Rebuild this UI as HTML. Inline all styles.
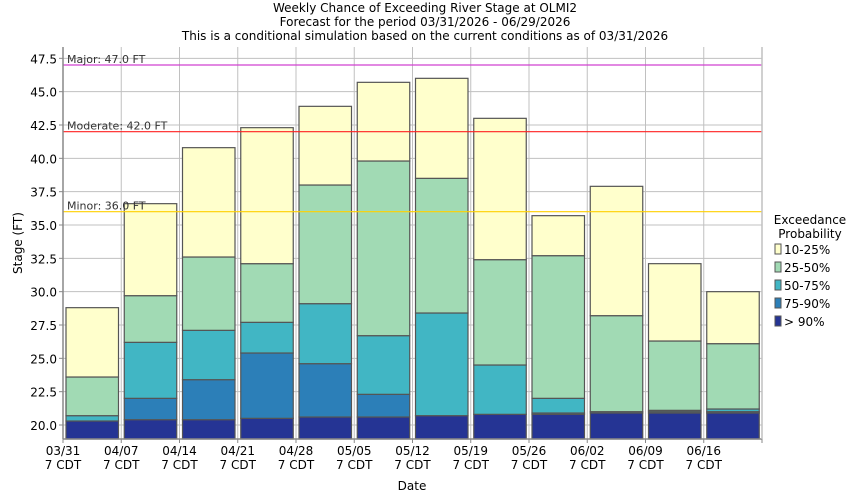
<!DOCTYPE html>
<html><head><meta charset="utf-8"><style>
body{margin:0;background:#fff;font-family:"DejaVu Sans","Liberation Sans",sans-serif;}
svg text{font-family:"DejaVu Sans","Liberation Sans",sans-serif;}
</style></head><body>
<svg id="s" width="850" height="500" xmlns="http://www.w3.org/2000/svg"></svg>
<script>
const s=document.getElementById('s');
let h='';
const L=63,R=762,T=47,B=439;
const y=v=>425-(v-20)*13.3333;
const xw=58.25;
h+=`<rect width="850" height="500" fill="#fff"/>`;
h+=`<text x="425" y="12" font-size="12" text-anchor="middle">Weekly Chance of Exceeding River Stage at OLMI2</text>`;
h+=`<text x="425" y="26" font-size="12" text-anchor="middle">Forecast for the period 03/31/2026 - 06/29/2026</text>`;
h+=`<text x="425" y="40" font-size="12" text-anchor="middle">This is a conditional simulation based on the current conditions as of 03/31/2026</text>`;
// grid
for(let v=20;v<=47.5;v+=2.5){const yy=y(v);h+=`<line x1="${L}" x2="${R}" y1="${yy}" y2="${yy}" stroke="#c0c0c0"/>`;
h+=`<line x1="${L-4}" x2="${L}" y1="${yy}" y2="${yy}" stroke="#888"/>`;
h+=`<text x="${L-6}" y="${yy+5}" font-size="12" text-anchor="end">${v.toFixed(1)}</text>`;}
const dates=['03/31','04/07','04/14','04/21','04/28','05/05','05/12','05/19','05/26','06/02','06/09','06/16'];
for(let i=0;i<=12;i++){const x=L+i*xw;h+=`<line x1="${x}" x2="${x}" y1="${T}" y2="${B}" stroke="#c0c0c0"/>`;
h+=`<line x1="${x}" x2="${x}" y1="${B}" y2="${B+4}" stroke="#888"/>`;
if(i<12){h+=`<text x="${x}" y="${B+16}" font-size="12" text-anchor="middle">${dates[i]}</text><text x="${x}" y="${B+30}" font-size="12" text-anchor="middle">7 CDT</text>`;}}
const d=[[20.3,20.3,20.7,23.6,28.8],[20.4,22.0,26.2,29.7,36.6],[20.4,23.4,27.1,32.6,40.8],[20.5,25.4,27.7,32.1,42.3],[20.6,24.6,29.1,38.0,43.9],[20.6,22.3,26.7,39.8,45.7],[20.7,20.7,28.4,38.5,46.0],[20.8,20.8,24.5,32.4,43.0],[20.8,20.9,22.0,32.7,35.7],[20.9,20.9,21.0,28.2,37.9],[20.9,21.0,21.1,26.3,32.1],[20.9,21.0,21.2,26.1,30.0]];
const c=['#253494','#2c7fb8','#41b6c4','#a1dab4','#ffffcc'];
const sc=['#1a2560','#1f4f70','#2c6f78','#4d6a55','#6f6f60'];
d.forEach((r,i)=>{const x=L+i*xw+3,w=52.5;let prev=B;
r.forEach((v,k)=>{const yy=y(v);const hh=prev-yy;if(hh>0.3)h+=`<rect x="${x}" y="${yy}" width="${w}" height="${hh}" fill="${c[k]}" stroke="#555" stroke-width="1.2"/>`;prev=Math.min(prev,yy);});});
// thresholds
[[47,'#d040d0','Major: 47.0 FT'],[42,'#ff2020','Moderate: 42.0 FT'],[36,'#ffd000','Minor: 36.0 FT']].forEach(([v,col,t])=>{const yy=y(v);
h+=`<line x1="${L}" x2="${R}" y1="${yy}" y2="${yy}" stroke="${col}" stroke-width="1.2"/>`;
h+=`<text x="${L+4}" y="${yy-2}" font-size="11" fill="#333">${t}</text>`;});
h+=`<line x1="${L}" x2="${L}" y1="${T}" y2="${B}" stroke="#888" stroke-width="1.5"/>`;
h+=`<line x1="${L}" x2="${R}" y1="${B}" y2="${B}" stroke="#888" stroke-width="1.5"/>`;
h+=`<line x1="${R}" x2="${R}" y1="${T}" y2="${B}" stroke="#c0c0c0" stroke-width="1.5"/>`;
h+=`<text x="412" y="490" font-size="12" text-anchor="middle">Date</text>`;
h+=`<text transform="translate(22,243) rotate(-90)" font-size="12" text-anchor="middle">Stage (FT)</text>`;
h+=`<text x="810" y="224" font-size="12" text-anchor="middle">Exceedance</text><text x="810" y="238" font-size="12" text-anchor="middle">Probability</text>`;
const lab=['10-25%','25-50%','50-75%','75-90%','> 90%'];
lab.forEach((t,k)=>{const yy=244+k*18;h+=`<rect x="775" y="${yy}" width="6" height="10" fill="${c[4-k]}" stroke="#555"/><text x="784" y="${yy+10}" font-size="12">${t.replace('>','&gt;')}</text>`;});
s.innerHTML=h;
</script>
</body></html>
